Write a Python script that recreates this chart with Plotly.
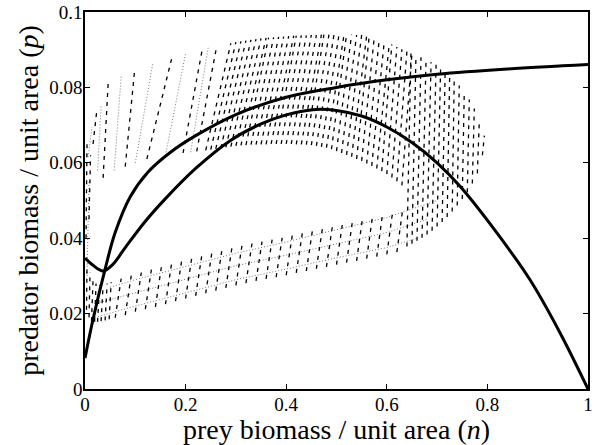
import plotly.graph_objects as go

# ---- thick isoclines ----
prey_iso_n = [0.0, 0.016, 0.036, 0.055, 0.080, 0.120, 0.160, 0.220, 0.290, 0.350, 0.400, 0.453, 0.500,
              0.550, 0.600, 0.650, 0.700, 0.746, 0.820, 0.885, 0.944, 1.0]
prey_iso_p = [0.0347, 0.0328, 0.0313, 0.0330, 0.0375, 0.0445, 0.0505, 0.0585, 0.0660, 0.0703, 0.0727, 0.0741, 0.0739,
              0.0724, 0.0695, 0.0654, 0.0600, 0.0537, 0.0412, 0.0289, 0.0150, 0.0]

pred_iso_n = [0.0, 0.016, 0.040, 0.060, 0.090, 0.125, 0.170, 0.220, 0.300, 0.400, 0.500, 0.600, 0.700, 0.840, 1.0]
pred_iso_p = [0.0082, 0.0185, 0.0318, 0.0415, 0.0510, 0.0575, 0.0628, 0.0672, 0.0728, 0.0774, 0.0800, 0.0820, 0.0835, 0.0849, 0.0861]

# ---- trajectory strands, upper band (dashed) ----
up_nb = [0.24, 0.25, 0.26, 0.27, 0.28, 0.29, 0.30, 0.31, 0.32, 0.33, 0.34, 0.35, 0.36, 0.37, 0.38, 0.39, 0.40, 0.41, 0.42, 0.43,
         0.44, 0.45, 0.46, 0.47, 0.48, 0.49, 0.50, 0.51, 0.52, 0.53, 0.54, 0.55, 0.56, 0.57, 0.58, 0.59, 0.60, 0.61, 0.62, 0.63]
up_pb = [0.0633, 0.0635, 0.0637, 0.0639, 0.0641, 0.0643, 0.0645, 0.0646, 0.0647, 0.0648, 0.0648, 0.0649, 0.0649, 0.0650, 0.0650, 0.0650, 0.0650, 0.0650, 0.0649, 0.0649,
         0.0648, 0.0647, 0.0645, 0.0642, 0.0640, 0.0636, 0.0631, 0.0626, 0.0621, 0.0616, 0.0610, 0.0605, 0.0598, 0.0592, 0.0585, 0.0578, 0.0570, 0.0561, 0.0551, 0.0540]
up_nt = [0.290, 0.300, 0.310, 0.320, 0.330, 0.340, 0.350, 0.360, 0.365, 0.375, 0.385, 0.395, 0.405, 0.415, 0.420, 0.430, 0.440, 0.450, 0.460, 0.470,
         0.475, 0.485, 0.495, 0.505, 0.515, 0.520, 0.530, 0.540, 0.550, 0.560, 0.565, 0.575, 0.585, 0.595, 0.605, 0.610, 0.620, 0.630, 0.640, 0.650]
up_pt = [0.0917, 0.0920, 0.0922, 0.0924, 0.0926, 0.0928, 0.0930, 0.0931, 0.0932, 0.0933, 0.0934, 0.0935, 0.0936, 0.0937, 0.0937, 0.0938, 0.0938, 0.0939, 0.0939, 0.0940,
         0.0940, 0.0940, 0.0940, 0.0940, 0.0940, 0.0940, 0.0940, 0.0939, 0.0939, 0.0937, 0.0936, 0.0932, 0.0928, 0.0922, 0.0917, 0.0914, 0.0907, 0.0901, 0.0896, 0.0890]

# ---- right-hand strands ----
rt_nb = [0.64, 0.65, 0.66, 0.67, 0.68, 0.69, 0.70, 0.71, 0.72, 0.73, 0.74, 0.75, 0.76, 0.77, 0.78, 0.79]
rt_pb = [0.0378, 0.0385, 0.0393, 0.0401, 0.0410, 0.0420, 0.0431, 0.0443, 0.0456, 0.0471, 0.0487, 0.0504, 0.0522, 0.0545, 0.0572, 0.0620]
rt_nt = [0.648, 0.658, 0.668, 0.678, 0.688, 0.698, 0.707, 0.716, 0.725, 0.734, 0.744, 0.754, 0.764, 0.774, 0.784, 0.794]
rt_pt = [0.0891, 0.0886, 0.0880, 0.0874, 0.0867, 0.0860, 0.0852, 0.0842, 0.0832, 0.0819, 0.0805, 0.0788, 0.0768, 0.0744, 0.0712, 0.0672]

# ---- left fan strands ----
fan_dash_nb = [0.002, 0.008, 0.016, 0.036, 0.080, 0.123, 0.195, 0.222]
fan_dash_pb = [0.0400, 0.0450, 0.0650, 0.0560, 0.0590, 0.0610, 0.0626, 0.0630]
fan_dash_nt = [0.004, 0.011, 0.024, 0.046, 0.099, 0.173, 0.233, 0.262]
fan_dash_pt = [0.0650, 0.0620, 0.0745, 0.0810, 0.0850, 0.0880, 0.0900, 0.0910]
fan_dot_nb = [0.004, 0.006, 0.025, 0.058, 0.100, 0.160, 0.210]
fan_dot_pb = [0.0300, 0.0615, 0.0580, 0.0580, 0.0600, 0.0620, 0.0628]
fan_dot_nt = [0.008, 0.014, 0.032, 0.072, 0.135, 0.200, 0.245]
fan_dot_pt = [0.0550, 0.0695, 0.0750, 0.0830, 0.0865, 0.0890, 0.0905]

# ---- lower-left cluster ----
ll_nb = [0.003, 0.008, 0.013, 0.019, 0.025, 0.032, 0.040, 0.048]
ll_pb = [0.0210, 0.0190, 0.0180, 0.0178, 0.0178, 0.0180, 0.0182, 0.0185]
ll_nt = [0.004, 0.010, 0.016, 0.022, 0.029, 0.036, 0.044, 0.052]
ll_pt = [0.0330, 0.0310, 0.0290, 0.0280, 0.0275, 0.0275, 0.0280, 0.0283]

# ---- lower band strands ----
lo_nb = [0.06, 0.08, 0.10, 0.12, 0.14, 0.16, 0.18, 0.20, 0.22, 0.24, 0.26, 0.28, 0.30, 0.32, 0.34,
         0.36, 0.38, 0.40, 0.42, 0.44, 0.46, 0.48, 0.50, 0.52, 0.54, 0.56, 0.58, 0.60, 0.62]
lo_pb = [0.0189, 0.0196, 0.0205, 0.0212, 0.0218, 0.0225, 0.0233, 0.0240, 0.0247, 0.0254, 0.0261, 0.0268, 0.0275, 0.0281, 0.0287,
         0.0292, 0.0297, 0.0302, 0.0308, 0.0313, 0.0319, 0.0324, 0.0330, 0.0335, 0.0340, 0.0346, 0.0351, 0.0357, 0.0363]
lo_nt = [0.072, 0.092, 0.112, 0.132, 0.152, 0.172, 0.192, 0.212, 0.232, 0.252, 0.272, 0.292, 0.312, 0.332, 0.352,
         0.372, 0.392, 0.412, 0.432, 0.452, 0.472, 0.492, 0.512, 0.532, 0.552, 0.572, 0.592, 0.612, 0.632]
lo_pt = [0.0293, 0.0301, 0.0309, 0.0317, 0.0325, 0.0332, 0.0339, 0.0346, 0.0353, 0.0360, 0.0367, 0.0374, 0.0380, 0.0386, 0.0391,
         0.0396, 0.0401, 0.0407, 0.0413, 0.0419, 0.0426, 0.0433, 0.0440, 0.0448, 0.0456, 0.0462, 0.0468, 0.0474, 0.0480]

# ---- dotted rows along the lower band ----
row1_n = [0.02, 0.10, 0.20, 0.30, 0.40, 0.50, 0.60, 0.66]
row1_p = [0.0190, 0.0220, 0.0255, 0.0290, 0.0318, 0.0348, 0.0375, 0.0400]
row2_n = [0.03, 0.10, 0.20, 0.30, 0.40, 0.50, 0.60, 0.68]
row2_p = [0.0230, 0.0255, 0.0290, 0.0327, 0.0355, 0.0385, 0.0415, 0.0450]
row3_n = [0.05, 0.10, 0.20, 0.30, 0.40, 0.50, 0.60, 0.70]
row3_p = [0.0270, 0.0290, 0.0325, 0.0360, 0.0390, 0.0422, 0.0455, 0.0500]

x_ticks = [0, 0.2, 0.4, 0.6, 0.8, 1]
x_labels = ["0", "0.2", "0.4", "0.6", "0.8", "1"]
y_ticks = [0, 0.02, 0.04, 0.06, 0.08, 0.1]
y_labels = ["0", "0.02", "0.04", "0.06", "0.08", "0.1"]


def segs(groups):
    xs, ys = [], []
    for nb, pb, nt, pt in groups:
        for a, b, c, d in zip(nb, pb, nt, pt):
            xs += [a, c, None]
            ys += [b, d, None]
    return xs, ys


dash_x, dash_y = segs([(up_nb, up_pb, up_nt, up_pt), (rt_nb, rt_pb, rt_nt, rt_pt),
                       (fan_dash_nb, fan_dash_pb, fan_dash_nt, fan_dash_pt),
                       (ll_nb, ll_pb, ll_nt, ll_pt), (lo_nb, lo_pb, lo_nt, lo_pt)])
dot_x, dot_y = segs([(fan_dot_nb, fan_dot_pb, fan_dot_nt, fan_dot_pt)])
for rn, rp in [(row1_n, row1_p), (row2_n, row2_p), (row3_n, row3_p)]:
    dot_x += rn + [None]
    dot_y += rp + [None]

fig = go.Figure()
fig.add_trace(go.Scatter(x=dot_x, y=dot_y, mode="lines", connectgaps=False,
                         line=dict(color="#555555", width=0.8, dash="1px,2px"), hoverinfo="skip"))
fig.add_trace(go.Scatter(x=dash_x, y=dash_y, mode="lines", connectgaps=False,
                         line=dict(color="black", width=1.3, dash="4px,5px"), hoverinfo="skip"))
fig.add_trace(go.Scatter(x=prey_iso_n, y=prey_iso_p, mode="lines",
                         line=dict(color="black", width=3, shape="spline", smoothing=1.0)))
fig.add_trace(go.Scatter(x=pred_iso_n, y=pred_iso_p, mode="lines",
                         line=dict(color="black", width=3, shape="spline", smoothing=1.0)))

font_family = "Liberation Serif"
axis_common = dict(showline=True, linecolor="black", linewidth=1.5, mirror="ticks",
                   ticks="inside", ticklen=5, tickwidth=1, tickcolor="black",
                   showgrid=False, zeroline=False, automargin=False,
                   ticklabeloverflow="allow", ticklabelstandoff=-3,
                   tickfont=dict(family=font_family, size=19, color="black"))

fig.update_layout(
    width=597, height=445,
    margin=dict(l=85, r=9, t=12, b=56),
    paper_bgcolor="white", plot_bgcolor="white",
    showlegend=False,
    xaxis=dict(range=[0, 1.000001], tickvals=x_ticks, ticktext=x_labels,
               title=dict(text="prey biomass / unit area (<i>n</i>)",
                          font=dict(family=font_family, size=28, color="black"), standoff=2),
               **axis_common),
    yaxis=dict(range=[0, 0.1000001], tickvals=y_ticks, ticktext=y_labels,
               title=dict(text="predator biomass / unit area (<i>p</i>)",
                          font=dict(family=font_family, size=28, color="black"), standoff=2),
               **axis_common),
)

# remove the default 8px page margin so the figure sits at the window origin
fig.write_html("out.html", config={"displayModeBar": False},
               post_script="document.body.style.margin='0';")
